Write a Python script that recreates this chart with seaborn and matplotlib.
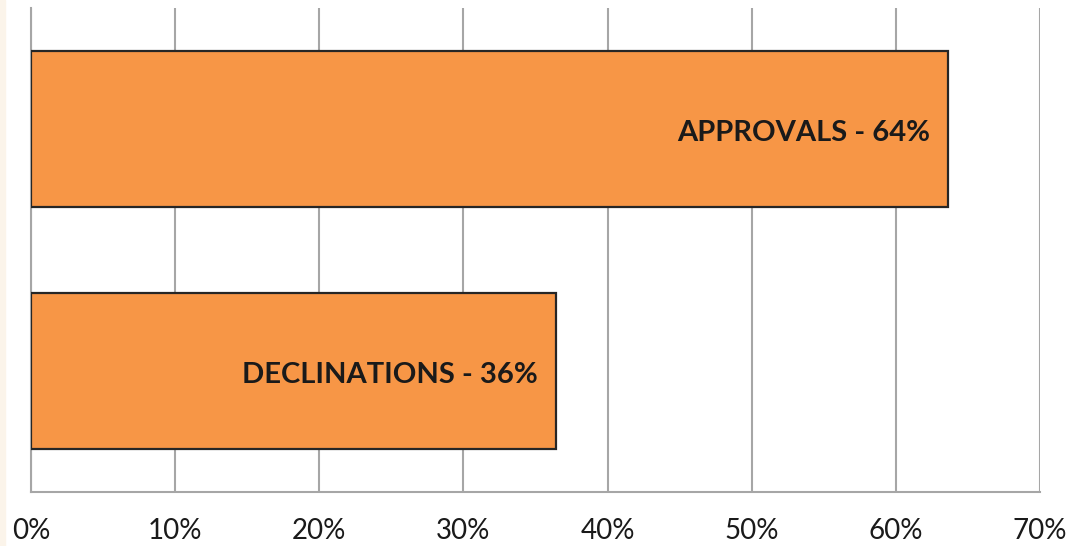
import matplotlib.pyplot as plt
import matplotlib.patches as mpatches
import seaborn as sns
import pandas as pd

# Data
categories = ["APPROVALS", "DECLINATIONS"]
shares = [63.6, 36.4]
labels = ["APPROVALS - 64%", "DECLINATIONS - 36%"]
x_ticks = [0, 10, 20, 30, 40, 50, 60, 70]

df = pd.DataFrame({"category": categories, "share": shares})

sns.set_style("white")
plt.rcParams["font.family"] = ["Lato", "DejaVu Sans"]

fig = plt.figure(figsize=(10.7, 5.46), dpi=100)
ax = fig.add_axes([31 / 1070, 54 / 546, 1009 / 1070, 484 / 546])

# faint strip on the left edge of the picture
fig.patches.append(mpatches.Rectangle((0, 0), 5 / 1070, 1, transform=fig.transFigure,
                                      color="#FBF4EA", zorder=0))

sns.barplot(data=df, x="share", y="category", orient="h", order=categories,
            color="#F79646", saturation=1, width=0.645,
            edgecolor="#262626", linewidth=1.6, ax=ax, zorder=3)

for i, (val, txt) in enumerate(zip(shares, labels)):
    ax.text(val - 1.25, i + 0.015, txt, ha="right", va="center", fontsize=21,
            fontweight="bold", color="#1A1A1A", zorder=4)

ax.set_xlim(0, 70)
ax.set_xticks(x_ticks)
ax.set_xticklabels([f"{t}%" for t in x_ticks], fontsize=20, color="#1A1A1A")
ax.tick_params(axis="x", length=0, pad=19)
ax.set_yticks([])
ax.set_xlabel("")
ax.set_ylabel("")

ax.grid(axis="x", color="#A6A6A6", linewidth=1.5, zorder=0)
ax.set_axisbelow(True)
for side in ["top", "right"]:
    ax.spines[side].set_visible(False)
for side in ["left", "bottom"]:
    ax.spines[side].set_color("#A6A6A6")
    ax.spines[side].set_linewidth(1.5)

fig.savefig("out.png", dpi=100)
